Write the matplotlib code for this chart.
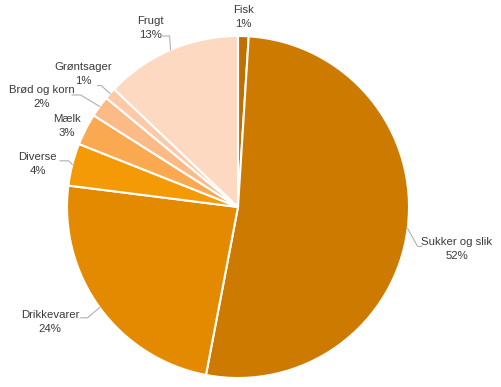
import numpy as np
import matplotlib
matplotlib.use("Agg")
import matplotlib.pyplot as plt

categories = ["Fisk", "Sukker og slik", "Drikkevarer", "Diverse", "Mælk",
              "Brød og korn", "Grøntsager", "Frugt"]
values = [1.0, 52.0, 24.0, 4.0, 3.0, 2.0, 1.1, 12.9]
colors = ["#C07000", "#CC7A00", "#E38A00", "#F39A06", "#FAA950",
          "#FCBA87", "#FDC9A6", "#FDD9C2"]

# label centres (data units, pie radius = 1)
label_pos = [(0.03, 1.11), (1.28, -0.245), (-1.10, -0.673), (-1.17, 0.25),
             (-1.0, 0.474), (-1.146, 0.643), (-0.906, 0.778), (-0.51, 1.047)]
# leader line start / elbow (None = no leader)
leaders = [None, [(1.05, -0.23), (1.075, -0.23)], [(-0.92, -0.648), (-0.88, -0.648)],
           [(-1.04, 0.27), (-0.99, 0.27)], None,
           [(-0.97, 0.655), (-0.92, 0.655)], [(-0.82, 0.71), (-0.80, 0.71)],
           [(-0.44, 1.0), (-0.40, 1.0)]]

fig = plt.figure(figsize=(5.01, 3.87), dpi=100)
ax = fig.add_axes([0, 0, 1, 1])

wedges, _ = ax.pie(values, colors=colors, startangle=90, counterclock=False,
                   radius=1, wedgeprops=dict(edgecolor="white", linewidth=1.5))

ax.set_xlim(-238 / 171, (501 - 238) / 171)
ax.set_ylim(-180 / 171, 207 / 171)
ax.set_aspect("auto")
ax.axis("off")

for w, name, v, pos, ld in zip(wedges, categories, values, label_pos, leaders):
    ax.text(pos[0], pos[1], "{}\n{}%".format(name, int(round(v))),
            ha="center", va="center", fontsize=8.2, color="#3A3A3A",
            family="Liberation Sans", linespacing=1.45)
    if ld is not None:
        mid = np.deg2rad((w.theta1 + w.theta2) / 2)
        ex, ey = np.cos(mid), np.sin(mid)
        xs = [ld[0][0], ld[1][0], ex]
        ys = [ld[0][1], ld[1][1], ey]
        if ex > 0:
            xs = [ld[1][0], ld[0][0], ex]
        ax.plot(xs, ys, color="#B0B0B0", linewidth=0.8)

fig.savefig("out.png", dpi=100)
